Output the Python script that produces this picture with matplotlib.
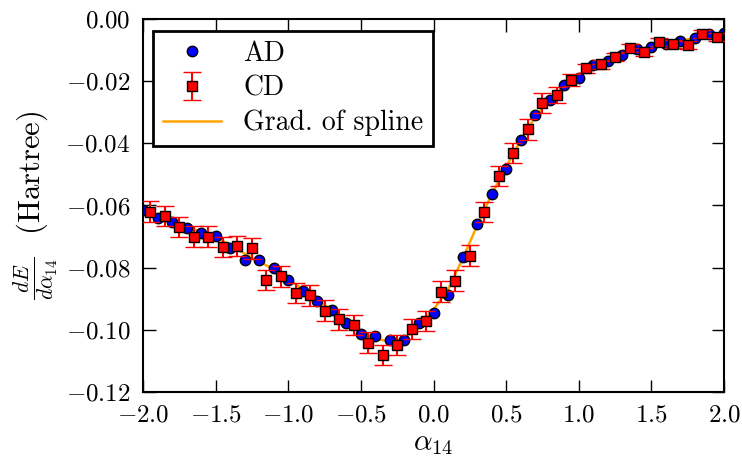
import numpy as np
import matplotlib
matplotlib.use("Agg")
import matplotlib.pyplot as plt

plt.rcParams['font.family'] = 'serif'
plt.rcParams['font.serif'] = ['cmr10']
plt.rcParams['mathtext.fontset'] = 'cm'
plt.rcParams['axes.formatter.use_mathtext'] = True
plt.rcParams['axes.unicode_minus'] = True

# ---- data ----
ad_x = [round(-2.0 + 0.1 * i, 2) for i in range(41)]
ad_y = [-0.0615, -0.0641, -0.0652, -0.0673, -0.0687, -0.0697, -0.0738, -0.0775,
        -0.0775, -0.0800, -0.0841, -0.0875, -0.0908, -0.0936, -0.0977, -0.1013,
        -0.1020, -0.1033, -0.1033, -0.0979, -0.0945, -0.0888, -0.0765, -0.0660,
        -0.0563, -0.0483, -0.0389, -0.0309, -0.0261, -0.0212, -0.0191, -0.0148,
        -0.0134, -0.0116, -0.0097, -0.0089, -0.0080, -0.0070, -0.0060, -0.0049,
        -0.0046]

cd_x = [round(-1.95 + 0.1 * i, 2) for i in range(40)]
cd_y = [-0.0620, -0.0634, -0.0669, -0.0700, -0.0700, -0.0733, -0.0730, -0.0738,
        -0.0839, -0.0828, -0.0882, -0.0889, -0.0938, -0.0966, -0.0984, -0.1041,
        -0.1081, -0.1049, -0.0998, -0.0971, -0.0877, -0.0842, -0.0761, -0.0621,
        -0.0505, -0.0431, -0.0355, -0.0270, -0.0245, -0.0196, -0.0159, -0.0146,
        -0.0123, -0.0094, -0.0105, -0.0075, -0.0081, -0.0084, -0.0049, -0.0059]
cd_err = [0.0033] * 28 + [0.0025, 0.0018, 0.0014, 0.0014, 0.0013, 0.0013,
                          0.0013, 0.0013, 0.0013, 0.0013, 0.0013, 0.0013]

spl_x = ad_x
spl_y = [-0.0620, -0.0635, -0.0655, -0.0670, -0.0685, -0.0702, -0.0727, -0.0755,
         -0.0780, -0.0806, -0.0837, -0.0870, -0.0905, -0.0937, -0.0972, -0.1005,
         -0.1028, -0.1038, -0.1028, -0.0988, -0.0935, -0.0870, -0.0772, -0.0665,
         -0.0565, -0.0476, -0.0390, -0.0316, -0.0260, -0.0216, -0.0184, -0.0156,
         -0.0135, -0.0116, -0.0099, -0.0088, -0.0079, -0.0070, -0.0061, -0.0053,
         -0.0048]

xticks = [-2.0, -1.5, -1.0, -0.5, 0.0, 0.5, 1.0, 1.5, 2.0]
yticks = [-0.12, -0.10, -0.08, -0.06, -0.04, -0.02, 0.00]

fig = plt.figure(figsize=(7.42, 4.65), dpi=100)
ax = fig.add_axes([143/742, 1 - 392/465, (724-143)/742, (392-19)/465])

ln, = ax.plot(spl_x, spl_y, color='orange', lw=1.8, zorder=1)
ad, = ax.plot(ad_x, ad_y, 'o', color='blue', mec='black', mew=1.0, ms=7.5, zorder=2)
cd = ax.errorbar(cd_x, cd_y, yerr=cd_err, fmt='s', color='red', mfc='red', mec='black',
                 mew=1.0, ms=7.5, ecolor='red', elinewidth=1.5, capsize=6.5, capthick=1.5,
                 zorder=3)

ax.set_xlim(-2, 2)
ax.set_ylim(-0.12, 0.0)
ax.set_xticks(xticks)
ax.set_yticks(yticks)
ax.set_xticklabels([r'$%.1f$' % v for v in xticks])
ax.set_yticklabels([r'$%.2f$' % v if v != 0 else r'$0.00$' for v in yticks])
ax.tick_params(direction='in', which='both', top=True, right=True, length=9, width=1.0,
               labelsize=18, pad=9)
for s in ax.spines.values():
    s.set_linewidth(1.5)

ax.set_xlabel(r'$\alpha_{14}$', fontsize=21, labelpad=3)
ax.set_ylabel(r'$\frac{dE}{d\alpha_{14}}$  (Hartree)', fontsize=22, labelpad=3)

leg = ax.legend([ad, cd, ln], ['AD', 'CD', 'Grad. of spline'], loc='upper left',
                bbox_to_anchor=(0.017, 0.968), borderaxespad=0, fontsize=20,
                numpoints=1, handlelength=2.1, handletextpad=0.8, fancybox=False,
                framealpha=1, edgecolor='black', labelspacing=0.3, borderpad=0.35)
leg.get_frame().set_linewidth(2.0)

fig.savefig('out.png', dpi=100)
